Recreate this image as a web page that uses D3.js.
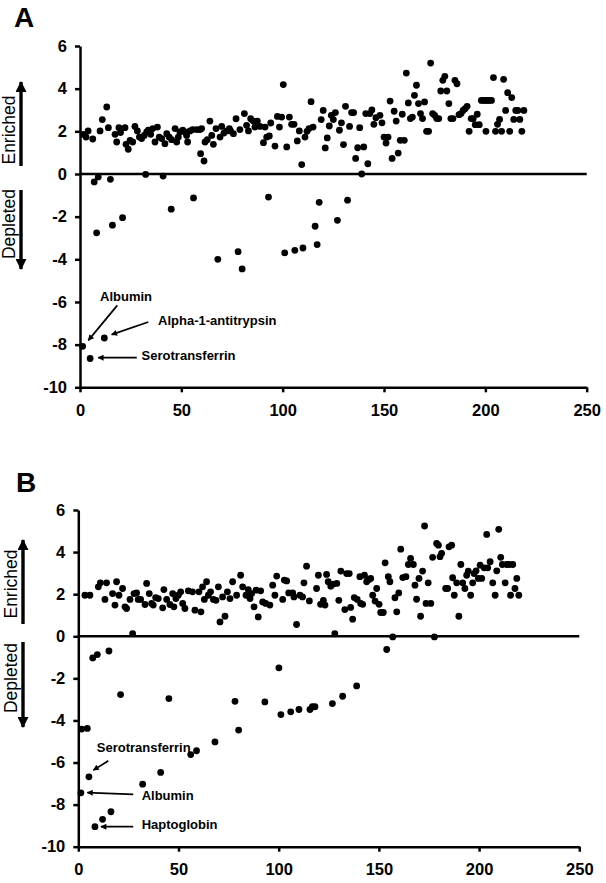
<!DOCTYPE html>
<html><head><meta charset="utf-8">
<script src="https://cdn.jsdelivr.net/npm/d3@7"></script>
<style>
body{margin:0;background:#fff;}
svg{display:block;font-family:"Liberation Sans",Arial,Helvetica,sans-serif;}
</style></head>
<body>
<script>
// ---------- DATA ----------
const xTicks = [0, 50, 100, 150, 200, 250];
const yTicks = [6, 4, 2, 0, -2, -4, -6, -8, -10];

// Panel A: protein rank vs log2 ratio
const aRank = [1.3,1.6,3,4,5,6.3,7,8.2,9,9.9,11,12,13.2,14,15,16,17.3,18.1,19.2,20,21,22.2,22.7,23.8,24.7,26,27.1,28.3,29.3,30.4,31.7,32.4,32.9,33.7,34.9,35.9,37,38.2,39.1,40.3,41,41.9,42.8,44,45,45.2,46.9,47.7,48.5,49.3,50.7,51.8,52.6,53.1,54.3,55.6,56,57.6,59.2,59.5,60,61.2,61.7,62.8,64.1,65,65.8,67.1,68,69.1,69.9,71,72.4,73.7,74.3,75.7,77,78,78.9,80,81.1,82.2,83.1,84.2,85.5,86.3,87.5,88.8,90.5,91.3,92.1,93,93.4,94.1,96.2,97.4,98.4,99.5,100.3,101,102,103.3,104.4,105.6,106,107.2,108.2,109.4,110,111,112,113,114,115,116,117,118,119,120,121,122,123,124,125,126,127,128,129,130,131,132,133,134,135,136,137,138,139,140,141,142,143,144,145,146,148,149,150,151,152,153,154,155,156,157,158,159,160,161,162,163,164,165,166,167,168,169,170,171,172,173,174,175,176,177,178,179,180,181,182,183,184,185,186,187,188,189,190,191,192,193,194,195,196,197,198,199,200,200.3,201,202,203,204,205,206,207,208,209,210,211,212,213,214,215,216,217,218,219];
const aRatio = [-8.08,1.86,1.73,2.02,-8.65,1.64,-0.37,-2.76,-0.14,2.02,2.55,-7.69,3.14,2.17,-0.25,-2.4,1.86,1.5,2.17,1.94,-2.05,2.17,1.39,1.16,1.58,1.5,2.23,2.02,1.73,1.66,1.81,-0.02,1.97,2.05,1.86,2.13,1.5,2.2,1.73,1.66,-0.1,1.42,1.89,1.73,-1.65,1.61,2.13,1.5,1.73,1.97,2.05,1.97,1.81,1.5,2.02,2.08,-1.12,2.08,2.08,0.95,2.13,0.61,1.5,1.61,2.48,1.81,1.39,2.13,-4.0,1.73,2.23,1.92,2.02,2.13,2.02,1.89,2.59,-3.64,2.08,-4.45,2.83,2.28,2.02,2.59,2.48,2.2,2.48,2.23,1.47,2.2,1.73,-1.08,1.78,2.39,1.31,2.7,2.2,2.67,4.19,-3.7,1.27,2.67,2.33,2.33,-3.58,1.55,2.02,0.44,-3.47,1.73,2.0,2.13,3.39,2.2,-2.45,-3.31,-1.33,2.55,2.98,1.22,1.69,2.25,2.75,2.55,2.88,-2.17,2.05,2.4,1.38,3.17,-1.23,2.23,2.88,2.88,0.73,1.23,2.17,0.0,1.27,2.83,0.48,2.83,3.0,2.33,2.64,2.75,2.4,1.73,1.45,1.73,3.42,0.73,2.94,2.48,0.98,1.58,2.8,1.58,4.73,3.33,2.6,2.67,3.69,4.16,3.3,2.83,2.6,3.38,2.0,2.0,5.2,2.83,2.75,2.6,2.6,3.89,4.39,4.58,3.89,3.3,2.6,2.6,4.39,4.23,2.78,2.83,2.98,3.06,3.17,2.0,2.6,2.6,2.31,2.8,2.31,3.45,3.45,3.45,2.0,3.45,3.45,3.45,4.52,2.0,2.33,2.56,2.0,4.44,2.98,3.81,2.0,3.58,2.56,2.98,2.98,2.56,2.0,2.98];

// Panel B
const bRank = [1.3,1.7,3.3,4.5,5.3,5.8,7.2,8.3,9.5,10,11,12.1,13.3,14.1,15.3,16.3,17.1,18.3,19.1,20.3,21.1,22.1,23.3,24.1,25.8,27.1,27.8,29.1,29.9,31.1,32.1,33.3,34.1,35.4,36.6,37.4,38.6,39.9,41.1,42.1,42.7,44.1,45.2,45.7,47.1,47.7,48.7,49.9,51.1,52.1,53.2,54.9,56.1,57,58.2,59,60.2,61.2,62,62.9,64,64.9,66,67.4,68.2,68.7,69.9,70.7,72,73.2,74.4,75.7,77,78.2,79,80,81,82,83.7,84.8,85.7,86.5,87.7,88.7,89.8,91,92,93.1,93.5,95.6,97,98.1,99,100.1,101.1,102,102.8,104,105,106,107,107.6,108.9,110.1,110.6,111.9,112.6,113.9,115.3,115.6,116.8,118.1,118.9,119.8,120.9,122.3,123.1,123.9,124.7,126,126.8,127.3,128,129,130,131,131.9,133,133.9,135.2,135.9,136.9,137.7,138.9,139.2,140.5,140.9,141.9,142.8,143.9,145.1,145.9,146.9,148.1,148.9,150.1,150.9,152.2,153.1,153.9,154.7,155.5,156.9,158,158.9,159.9,160.9,161.9,163.5,164.7,165.8,167.2,168,168.8,170,170.8,171.8,172.8,173.5,174.6,175.9,176.8,177.7,178.8,179.7,180.5,181.3,183.3,184.3,185,186.3,186.8,187.6,188.8,189.9,190.9,191.8,192.9,193.8,194.6,195.8,196.8,197.5,198.5,199.6,200.5,201.3,202.5,203.8,204.3,205.5,206.8,208,208.8,209.8,210.8,211.6,213,213.8,215,215.7,216.8,217.9,218.8,219.8];
const bRatio = [-7.44,-4.41,1.95,-4.38,-6.68,1.95,-1.03,-9.05,-0.87,2.35,2.54,-8.7,1.75,2.54,-0.7,-8.34,2.03,1.48,2.59,1.95,-2.77,2.27,1.4,1.32,1.75,0.13,2.03,2.06,1.75,1.75,-7.03,1.51,2.51,2.03,1.56,1.48,1.84,1.79,-6.47,1.35,2.22,1.75,-2.96,1.51,2.03,1.4,1.79,1.95,2.11,1.56,1.32,2.16,-5.62,2.11,1.24,-5.44,2.11,1.16,2.35,1.75,2.59,1.95,2.11,1.75,-5.02,1.71,2.35,0.68,1.87,0.95,2.11,1.79,2.59,-3.09,1.95,-4.46,2.9,2.35,1.95,2.22,1.79,2.03,1.4,2.19,0.92,2.16,1.63,-3.12,1.56,1.48,2.43,1.95,2.86,-1.5,-3.72,1.75,2.67,2.63,2.06,-3.59,2.06,1.87,0.56,-3.48,1.95,1.87,2.54,3.33,1.68,-3.48,-3.35,-3.35,2.27,2.9,1.52,1.71,1.48,2.94,2.59,2.38,-3.2,2.48,0.13,2.51,1.71,3.1,-2.85,1.27,2.98,2.98,1.37,0.81,1.84,-2.36,1.75,2.83,1.56,1.52,2.9,2.59,2.7,2.75,1.95,1.67,2.27,1.52,1.13,1.13,3.49,-0.63,2.83,2.59,-0.03,1.83,1.16,2.06,4.14,2.79,2.83,3.41,3.7,3.41,2.43,1.76,2.75,0.95,3.1,5.24,1.56,2.54,1.56,3.75,-0.03,4.41,4.33,3.78,3.94,2.27,2.27,4.25,4.33,2.78,1.95,2.54,0.95,3.41,2.54,2.27,2.9,3.1,1.95,2.54,2.98,3.11,2.75,3.38,2.75,3.25,4.84,3.25,3.54,2.54,1.95,3.11,5.08,3.75,3.41,2.54,3.41,3.41,1.95,3.41,2.27,2.75,1.95];

// annotation labels (text, text position, arrow start, arrow tip) in data units
const aNotes = [
  {text:"Albumin", tx:9.9, ty:-5.95, x1:18.4, y1:-6.16, x2:4.1, y2:-7.8},
  {text:"Alpha-1-antitrypsin", tx:38.5, ty:-7.07, x1:33.7, y1:-6.94, x2:15.6, y2:-7.53},
  {text:"Serotransferrin", tx:30.4, ty:-8.71, x1:28, y1:-8.61, x2:9.0, y2:-8.61}
];
const bNotes = [
  {text:"Serotransferrin", tx:9.2, ty:-5.49, x1:15, y1:-5.92, x2:7.5, y2:-6.36},
  {text:"Albumin", tx:31.6, ty:-7.8, x1:27.4, y1:-7.51, x2:4.5, y2:-7.43},
  {text:"Haptoglobin", tx:31.6, ty:-9.15, x1:27.4, y1:-9.05, x2:11.3, y2:-9.05}
];

// ---------- DRAW ----------
const svg = d3.select("body").append("svg").attr("width",606).attr("height",883);
const defs = svg.append("defs");
defs.append("marker").attr("id","headSmall").attr("viewBox","0 0 10 10").attr("refX",9).attr("refY",5)
  .attr("markerWidth",7).attr("markerHeight",6).attr("markerUnits","userSpaceOnUse").attr("orient","auto")
  .append("path").attr("d","M0,0L10,5L0,10Z").attr("fill","#000");
defs.append("marker").attr("id","headBig").attr("viewBox","0 0 10 10").attr("refX",9).attr("refY",5)
  .attr("markerWidth",13).attr("markerHeight",11).attr("markerUnits","userSpaceOnUse").attr("orient","auto")
  .append("path").attr("d","M0,0L10,5L0,10Z").attr("fill","#000");

function drawPanel(cfg){
  const x = d3.scaleLinear().domain([0,250]).range(cfg.xr);
  const y = d3.scaleLinear().domain([6,-10]).range(cfg.yr);
  const g = svg.append("g");

  g.append("text").attr("x",cfg.letterX).attr("y",cfg.letterY).text(cfg.letter)
    .attr("font-size",28).attr("font-weight","bold");

  g.append("line").attr("x1",x(0)).attr("x2",x(250)).attr("y1",y(0)).attr("y2",y(0))
    .attr("stroke","#000").attr("stroke-width",2.5);

  const ya = g.append("g").attr("transform",`translate(${x(0)},0)`)
    .call(d3.axisLeft(y).tickValues(yTicks).tickSize(5).tickSizeOuter(0).tickPadding(8).tickFormat(d3.format("d")));
  const xa = g.append("g").attr("transform",`translate(0,${y(-10)})`)
    .call(d3.axisBottom(x).tickValues(xTicks).tickSize(5).tickSizeOuter(0).tickPadding(12).tickFormat(d3.format("d")));
  [ya,xa].forEach(a=>{
    a.select(".domain").attr("stroke","#000").attr("stroke-width",2.5);
    a.selectAll(".tick line").attr("stroke","#000").attr("stroke-width",2.5);
    a.selectAll(".tick text").attr("fill","#000").attr("font-size",16.5).attr("font-weight","bold")
      .attr("font-family","Liberation Sans, Arial, sans-serif");
  });
  ya.selectAll(".tick text").text(d=>d<0?"-"+Math.abs(d):d);

  g.append("g").selectAll("circle").data(cfg.rank.map((r,i)=>[r,cfg.ratio[i]])).join("circle")
    .attr("cx",d=>x(d[0])).attr("cy",d=>y(d[1])).attr("r",3.4).attr("fill","#000");

  const side = [
    {text:"Enriched", cy:cfg.enrY, a1:cfg.enrA[0], a2:cfg.enrA[1]},
    {text:"Depleted", cy:cfg.depY, a1:cfg.depA[0], a2:cfg.depA[1]}
  ];
  side.forEach(s=>{
    g.append("text").attr("transform",`translate(${cfg.sideTextX},${s.cy}) rotate(-90)`)
      .attr("text-anchor","middle").attr("font-size",17.5).text(s.text);
    g.append("line").attr("x1",cfg.sideArrowX).attr("x2",cfg.sideArrowX).attr("y1",s.a1).attr("y2",s.a2)
      .attr("stroke","#000").attr("stroke-width",3.4).attr("marker-end","url(#headBig)");
  });

  cfg.notes.forEach(n=>{
    g.append("text").attr("x",x(n.tx)).attr("y",y(n.ty)).attr("font-size",13).attr("font-weight","bold").text(n.text);
    g.append("line").attr("x1",x(n.x1)).attr("y1",y(n.y1)).attr("x2",x(n.x2)).attr("y2",y(n.y2))
      .attr("stroke","#000").attr("stroke-width",1.7).attr("marker-end","url(#headSmall)");
  });
}

drawPanel({letter:"A", letterX:14, letterY:27, xr:[80,586.7], yr:[46,387.3],
  rank:aRank, ratio:aRatio, notes:aNotes,
  sideTextX:15, sideArrowX:21, enrY:130, enrA:[166,82], depY:224, depA:[190,269]});
drawPanel({letter:"B", letterX:16, letterY:492, xr:[78.3,579.3], yr:[510,846.7],
  rank:bRank, ratio:bRatio, notes:bNotes,
  sideTextX:17, sideArrowX:23, enrY:584, enrA:[624,540], depY:678, depA:[642,727]});
</script>
</body></html>
